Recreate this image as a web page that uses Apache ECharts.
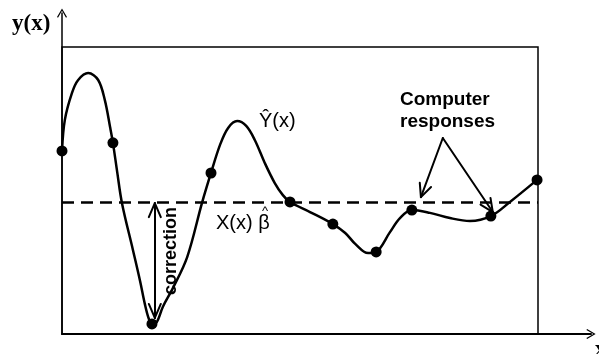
<!DOCTYPE html>
<html>
<head>
<meta charset="utf-8">
<script src="https://cdn.jsdelivr.net/npm/echarts@6/dist/echarts.min.js"></script>
<style>
  html, body { margin: 0; padding: 0; background: #fff; }
  #main { width: 599px; height: 354px; }
</style>
</head>
<body>
<div id="main"></div>
<script>
// curve Y^(x) (box = 0..10 on both axes)
const curveX = [0, 0.06, 0.21, 0.34, 0.55, 0.76, 0.90, 1.01, 1.07, 1.16, 1.26, 1.49, 1.64, 1.74, 1.82, 1.89,
  1.96, 2.03, 2.12, 2.33, 2.63, 2.94, 3.13, 3.32, 3.49, 3.68, 3.87, 4.05, 4.26, 4.47, 4.64, 4.79, 5.21, 5.69,
  5.95, 6.16, 6.43, 6.60, 6.89, 7.10, 7.35, 7.73, 8.15, 8.57, 9.01, 9.41, 9.98]
const curveY = [6.38, 7.46, 8.40, 8.85, 9.09, 8.85, 8.15, 7.21, 6.66, 5.64, 4.56, 2.93, 1.85, 1.05, 0.55, 0.35,
  0.36, 0.55, 0.95, 1.60, 2.68, 4.56, 5.61, 6.59, 7.18, 7.42, 7.25, 6.76, 5.96, 5.26, 4.84, 4.60, 4.25, 3.83,
  3.52, 3.14, 2.82, 2.86, 3.55, 4.04, 4.32, 4.22, 4.04, 3.94, 4.11, 4.60, 5.37]

// computer responses (dots)
const dotX = [0, 1.07, 1.89, 3.13, 4.79, 5.69, 6.60, 7.35, 9.01, 9.98]
const dotY = [6.38, 6.66, 0.35, 5.61, 4.60, 3.83, 2.86, 4.32, 4.11, 5.37]

// regression part X(x) beta
const trendLevel = 4.6

// correction arrow (x, top, bottom) and the two pointer arrows
const correction = [1.95, 4.56, 0.56]
const pointerFrom = [8.0, 6.83]
const pointerTo = [[7.54, 4.77], [9.05, 4.25]]

const chevron = 'path://M10,0 L20,17 L18,18.5 L10,4.5 L2,18.5 L0,17 Z'

// box is 476 x 287 px for 10 x 10 units
const pxX = 47.6, pxY = 28.7

// open "V" head at `tip` for a shaft coming from `from`, as two short markLine segments
function vHead(from, tip, len, half) {
  let dx = (tip[0] - from[0]) * pxX, dy = (tip[1] - from[1]) * pxY
  let d = Math.sqrt(dx * dx + dy * dy)
  let ux = dx / d, uy = dy / d
  let out = []
  for (let s of [-1, 1]) {
    let ex = -ux * len + s * -uy * half
    let ey = -uy * len + s * ux * half
    out.push([{ coord: tip }, { coord: [tip[0] + ex / pxX, tip[1] + ey / pxY] }])
  }
  return out
}

let arrowLines = []
pointerTo.forEach(p => {
  arrowLines.push([{ coord: pointerFrom }, { coord: p }])
  arrowLines = arrowLines.concat(vHead(pointerFrom, p, 13, 6))
})
let cTop = [correction[0], correction[1]], cBot = [correction[0], correction[2]]
arrowLines.push([{ coord: cTop }, { coord: cBot }])
arrowLines = arrowLines.concat(vHead(cBot, cTop, 14, 6), vHead(cTop, cBot, 14, 6))

let chart = echarts.init(document.getElementById('main'))

const sans = 'Liberation Sans, Arial, sans-serif'
const serif = '"Liberation Serif", "Times New Roman", serif'

const option = {
  animation: false,
  backgroundColor: '#fff',
  grid: [
    { left: 62, right: 61, top: 47, bottom: 20, show: true, borderColor: '#000', borderWidth: 1.5 },
    { left: 62, right: 8, top: 13, bottom: 20 }
  ],
  xAxis: [
    { gridIndex: 0, type: 'value', min: 0, max: 10, show: false },
    {
      gridIndex: 1, type: 'value', min: 0, max: 1,
      axisLine: { show: true, symbol: ['none', chevron], symbolSize: [10, 12], lineStyle: { color: '#000', width: 2 } },
      axisTick: { show: false }, axisLabel: { show: false }, splitLine: { show: false }
    }
  ],
  yAxis: [
    { gridIndex: 0, type: 'value', min: 0, max: 10, show: false },
    {
      gridIndex: 1, type: 'value', min: 0, max: 1,
      axisLine: { show: true, symbol: ['none', chevron], symbolSize: [10, 12], lineStyle: { color: '#000', width: 1.5 } },
      axisTick: { show: false }, axisLabel: { show: false }, splitLine: { show: false }
    }
  ],
  series: [
    {
      name: 'fit',
      type: 'line',
      xAxisIndex: 0, yAxisIndex: 0,
      data: curveX.map((x, i) => [x, curveY[i]]),
      smooth: 0.35,
      showSymbol: false,
      lineStyle: { color: '#000', width: 2.5 },
      silent: true,
      z: 3
    },
    {
      name: 'responses',
      type: 'scatter',
      xAxisIndex: 0, yAxisIndex: 0,
      data: dotX.map((x, i) => [x, dotY[i]]),
      symbolSize: 11,
      itemStyle: { color: '#000', opacity: 1 },
      silent: true,
      z: 5,
      markLine: {
        silent: true,
        symbol: ['none', 'none'],
        label: { show: false },
        lineStyle: { color: '#000', width: 2.5, type: [12, 7] },
        data: [{ yAxis: trendLevel }]
      }
    },
    {
      name: 'arrows',
      type: 'line',
      xAxisIndex: 0, yAxisIndex: 0,
      data: [],
      markLine: {
        silent: true,
        symbol: ['none', 'none'],
        label: { show: false },
        lineStyle: { color: '#000', width: 2, type: 'solid', cap: 'round' },
        data: arrowLines
      }
    }
  ],
  graphic: [
    { type: 'text', left: 12, top: 13, style: { text: 'y(x)', font: 'bold 23px ' + serif, fill: '#000' } },
    { type: 'text', left: 595, top: 339, style: { text: 'x', font: 'bold 21px ' + serif, fill: '#000' } },
    { type: 'text', left: 259, top: 111, style: { text: 'Ŷ(x)', font: '20px ' + sans, fill: '#000' } },
    { type: 'text', left: 216, top: 213, style: { text: 'X(x) β', font: '20px ' + sans, fill: '#000' } },
    { type: 'text', left: 262, top: 205, style: { text: '^', font: '13px ' + sans, fill: '#000' } },
    {
      type: 'text', left: 400, top: 89,
      style: { text: 'Computer\nresponses', font: 'bold 19px ' + sans, lineHeight: 22, align: 'center', fill: '#000' }
    },
    {
      type: 'text', x: 171, y: 251, rotation: Math.PI / 2,
      style: { text: 'correction', font: 'bold 18px ' + sans, align: 'center', verticalAlign: 'middle', fill: '#000' }
    }
  ]
}

chart.setOption(option)
</script>
</body>
</html>
